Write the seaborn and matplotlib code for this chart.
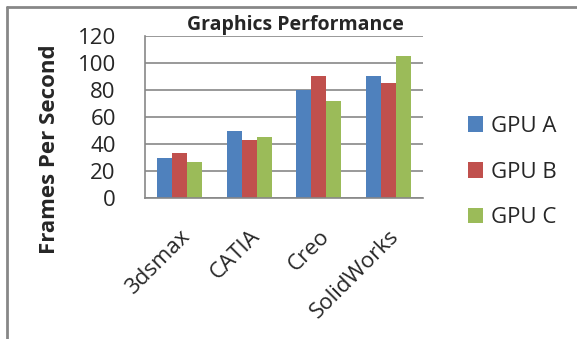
import matplotlib
matplotlib.use("Agg")
import matplotlib.pyplot as plt
import seaborn as sns
import pandas as pd
from matplotlib.lines import Line2D

categories = ["3dsmax", "CATIA", "Creo", "SolidWorks"]
gpu_a = [30, 50, 80, 90]
gpu_b = [33, 43, 90, 85]
gpu_c = [27, 45, 72, 105]
series_names = ["GPU A", "GPU B", "GPU C"]
colors = ["#4F81BD", "#C0504D", "#9BBB59"]
yticks = [0, 20, 40, 60, 80, 100, 120]

rows = []
for name, vals in zip(series_names, [gpu_a, gpu_b, gpu_c]):
    for c, v in zip(categories, vals):
        rows.append({"App": c, "GPU": name, "FPS": v})
df = pd.DataFrame(rows)

sns.set_style("white")
plt.rcParams['font.family'] = ['Open Sans', 'DejaVu Sans']

W, H = 577, 339
fig = plt.figure(figsize=(W / 100, H / 100), dpi=100)
ax = fig.add_axes([145 / W, 1 - 198 / H, (423 - 145) / W, (198 - 36) / H])

sns.barplot(data=df, x="App", y="FPS", hue="GPU", palette=colors,
            width=0.65, gap=0, ax=ax, saturation=1, edgecolor="none",
            errorbar=None)

ax.set_ylim(0, 120)
ax.set_xlim(-0.5, 3.5)
ax.set_yticks(yticks)
ax.set_yticklabels([str(t) for t in yticks], fontsize=16)
ax.yaxis.grid(True, color="#878787", linewidth=1.2)
ax.set_axisbelow(True)
for s in ["top", "right"]:
    ax.spines[s].set_visible(False)
for s in ["left", "bottom"]:
    ax.spines[s].set_color("#878787")
    ax.spines[s].set_linewidth(1.2)
ax.tick_params(axis="y", length=7, color="#878787", width=1.2, pad=14)
ax.set_xticks(range(len(categories)))
ax.set_xticklabels(categories, rotation=45, ha="right", va="top",
                   rotation_mode="anchor", fontsize=16)
ax.tick_params(axis="x", which="major", length=0, pad=20)
ax.set_xticks([i - 0.5 for i in range(len(categories) + 1)], minor=True)
ax.tick_params(axis="x", which="minor", length=7, color="#878787", width=1.2)
ax.set_xlabel("")
ax.set_ylabel("Frames Per Second", fontsize=16, fontweight="bold", labelpad=8)
ax.yaxis.set_label_coords(60 / W, 1 - 149 / H, transform=fig.transFigure)
ax.set_title("Graphics Performance", fontsize=14, fontweight="bold",
             x=(295 - 145) / (423 - 145), pad=4)

handles, labels = ax.get_legend_handles_labels()
ax.legend(handles, labels, loc="center left", bbox_to_anchor=(459 / W, 1 - 172 / H),
          bbox_transform=fig.transFigure, frameon=False, fontsize=16,
          handlelength=0.7, handleheight=0.7, handletextpad=0.35,
          labelspacing=1.12, borderaxespad=0)

fig.lines.append(Line2D([7 / W, 1], [1 - 7 / H, 1 - 7 / H], transform=fig.transFigure,
                        color="#878787", linewidth=2))
fig.lines.append(Line2D([7 / W, 7 / W], [0, 1 - 7 / H], transform=fig.transFigure,
                        color="#878787", linewidth=2))

fig.savefig("out.png", dpi=100)
